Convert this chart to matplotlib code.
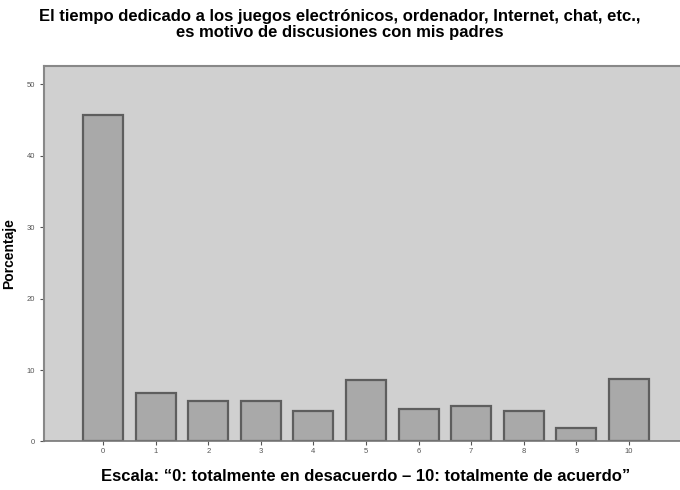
import matplotlib.pyplot as plt
import numpy as np

plt.rcParams['font.family'] = ['Liberation Sans', 'DejaVu Sans']

categories = ['0', '1', '2', '3', '4', '5', '6', '7', '8', '9', '10']
percent = [45.7, 6.8, 5.6, 5.6, 4.2, 8.6, 4.5, 4.9, 4.2, 1.9, 8.8]
yticks = [0, 10, 20, 30, 40, 50]

fig = plt.figure(figsize=(6.8, 4.9), dpi=100)
ax = fig.add_axes([0.065, 0.099, 0.945, 0.767])
ax.set_facecolor('#d0d0d0')

x = np.arange(len(categories))
ax.bar(x, percent, width=0.76, color='#a9a9a9', edgecolor='#5e5e5e', linewidth=1.6, zorder=2)

ax.set_xlim(-1.12, 11.1)
ax.set_ylim(0, 52.6)
ax.set_xticks(x)
ax.set_xticklabels(categories)
ax.set_yticks(yticks)
ax.tick_params(axis='both', labelsize=5.5, colors='#555555', length=3, width=0.8)
ax.tick_params(axis='x', pad=2)

for side in ['left', 'top']:
    ax.spines[side].set_color('#888888')
    ax.spines[side].set_linewidth(1.5)
ax.spines['bottom'].set_color('#777777')
ax.spines['bottom'].set_linewidth(1.2)
ax.spines['right'].set_visible(False)

ax.set_ylabel('Porcentaje', fontsize=10, fontweight='bold', labelpad=8)
ax.set_xlabel('Escala: \u201c0: totalmente en desacuerdo \u2013 10: totalmente de acuerdo\u201d',
              fontsize=12, fontweight='bold', labelpad=10)
fig.text(0.5, 0.95, 'El tiempo dedicado a los juegos electrónicos, ordenador, Internet, chat, etc.,\n'
         'es motivo de discusiones con mis padres',
         ha='center', va='center', fontsize=12, fontweight='bold', linespacing=1.1)

plt.savefig('out.png', dpi=100)
